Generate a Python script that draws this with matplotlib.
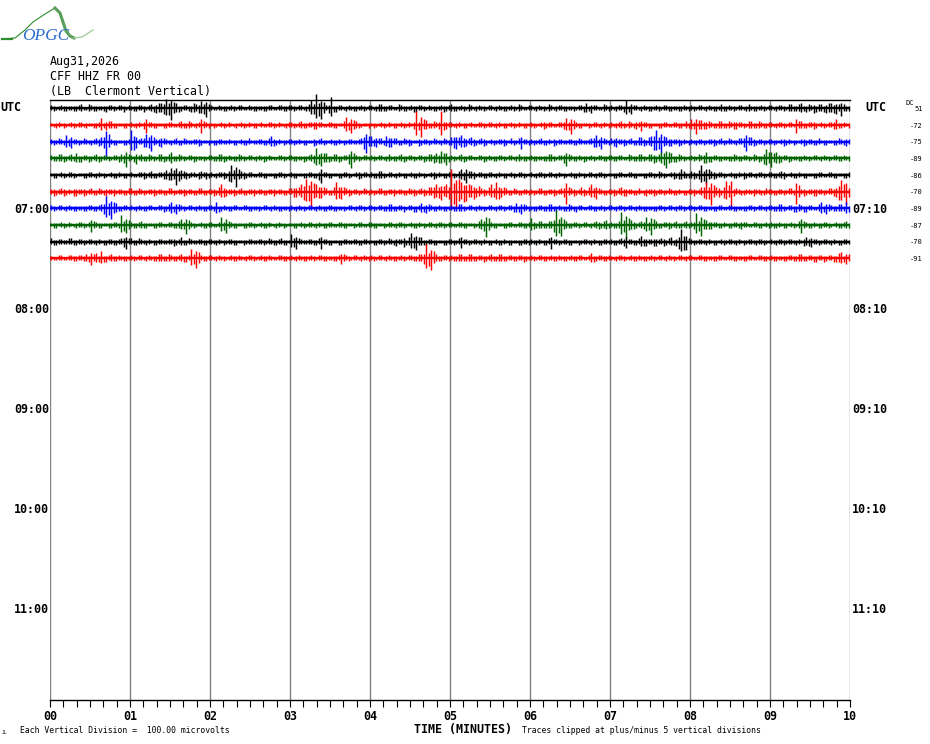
import matplotlib
matplotlib.use('Agg')
import matplotlib.pyplot as plt
import numpy as np

W, H = 930, 744
ROW_PX = 600 / 36  # une ligne = 1 minute... 16.67 px

# Deviations (px, 16 valeurs par minute)
trace_0 = [3,-2,3,-3,2,-3,4,-2,3,-3,2,-4,3,-2,3,-2,
           2,-3,3,-2,4,-5,5,9,-12,5,-3,3,-4,4,7,-9,
           3,-2,2,-3,3,-2,3,-2,2,-3,2,-3,3,-2,3,-3,
           3,-2,3,-3,8,14,-11,3,11,-4,3,-3,2,-3,3,-2,
           3,-3,4,-3,3,-2,3,-3,3,-4,3,-2,2,-3,3,-3,
           4,-3,3,-2,3,-3,2,-2,3,-3,2,-3,3,-2,3,-2,
           3,-3,2,-2,3,-3,3,-3,2,-2,3,5,-5,3,-2,3,
           3,-3,3,8,-6,3,-3,2,-3,3,-2,3,-3,2,-3,2,
           3,-2,3,-3,2,-3,4,-3,2,-2,3,-3,2,-3,3,-2,
           3,-3,3,-2,4,-3,5,-4,3,-4,4,-5,5,-6,-8,-3]
trace_1 = [2,-3,2,-2,3,-2,3,-3,2,-3,7,-5,4,-3,2,-3,
           3,-3,2,-8,3,-3,2,-3,3,-2,4,-3,3,-3,-8,3,
           2,-2,3,-2,2,-3,3,-2,2,-3,3,-2,3,-2,2,-3,
           3,-2,4,-3,3,-4,3,-2,3,-3,2,8,-8,4,-2,2,
           2,-2,3,-2,2,-3,3,-2,2,14,-12,5,-3,3,14,-4,
           3,-3,2,-3,3,-2,3,-2,3,-3,2,-3,3,-2,2,-3,
           3,-2,3,-3,3,-2,3,7,-9,3,-3,2,-2,3,-3,2,
           3,-3,4,-2,3,-4,-6,3,-3,2,-3,3,-2,3,-3,4,
           6,-9,5,-4,3,-3,4,-3,3,-4,3,-2,4,-3,3,-3,
           3,-3,3,-2,3,-8,4,-3,3,-3,3,-2,3,6,-3,2]
trace_2 = [3,-2,3,7,-6,3,-2,3,-3,4,5,-15,3,-3,2,-3,
           12,-6,4,8,-9,3,-5,3,-3,4,-3,3,-2,3,-3,2,
           2,-3,3,-2,2,-3,3,-3,2,-2,3,-3,6,-3,2,-2,
           3,-2,2,-3,2,-3,4,-2,3,-3,2,-2,3,-2,4,-11,
           6,-5,4,6,-5,4,-3,3,-3,2,-3,3,-2,3,-3,3,
           5,-7,7,-4,5,-3,4,-3,3,-2,3,-3,4,-2,-7,3,
           3,-2,4,-3,2,-3,3,-2,3,-3,3,-2,4,7,-7,3,
           4,-5,3,-3,4,-3,5,-3,6,12,-11,5,-4,3,-3,2,
           3,-3,3,-2,3,-3,4,-2,3,-3,4,-9,5,-3,3,-2,
           3,-2,3,-3,2,-2,3,-3,3,-3,2,-3,2,-3,3,-4]
trace_3 = [3,-3,4,-3,4,5,-4,3,-3,4,-3,3,-2,3,4,-9,
           3,-6,4,-3,3,-2,4,-3,6,-3,3,-2,3,-3,2,-2,
           3,-3,4,-3,2,-3,3,-2,3,-3,2,-3,2,-2,3,-2,
           3,-3,2,-3,4,10,-8,5,-3,4,-3,3,-10,3,-2,3,
           3,-2,3,-3,2,-3,4,-3,3,-2,3,-3,4,5,7,-7,
           3,-2,4,-3,3,-2,3,-3,2,-3,3,-2,3,-3,2,-3,
           3,-3,2,-3,4,-2,3,-8,3,-3,2,-3,3,-2,3,-3,
           3,-3,3,-2,3,-3,4,-2,4,-4,6,-10,5,-4,3,-2,
           3,-2,3,6,-4,3,-3,2,-3,3,-3,3,-2,3,-3,9,
           -9,6,-4,3,-3,2,-3,2,-2,3,-3,2,-2,3,-3,2]
trace_4 = [2,-3,3,-2,3,-2,2,-3,3,-3,2,-2,3,-3,2,-3,
           3,-2,3,-3,4,-3,3,5,7,-10,5,-4,3,-2,4,-4,
           3,-3,3,-3,10,-12,4,-3,3,-2,3,-3,2,-3,3,-2,
           3,-3,2,-3,3,-3,-8,3,-3,2,-3,3,-2,3,-3,3,
           3,-3,4,-2,3,-3,2,-3,3,-3,2,-2,3,-3,2,-3,
           3,-2,6,-8,4,-2,3,-3,3,-3,2,-3,3,-2,3,-2,
           3,-3,3,-2,3,-3,2,-2,3,-3,2,-2,3,-3,3,-2,
           2,-3,3,-2,3,-3,2,-3,3,-2,3,-2,3,-3,6,-3,
           4,-3,10,-9,4,-3,3,-2,3,-3,2,-3,3,-3,3,-2,
           3,-3,4,-2,3,-3,2,-3,2,-3,3,-2,3,-3,2,-3]
trace_5 = [3,-3,4,-3,2,-4,3,-3,4,-3,3,-4,3,-2,3,-3,
           4,-3,3,-2,3,-3,3,-3,4,-2,3,-3,3,-3,4,-3,
           3,-3,8,-4,3,-3,4,-3,3,-2,3,-3,3,-2,3,-3,
           4,-5,8,13,-15,8,-6,4,-3,10,-7,4,-3,3,-2,3,
           3,-2,4,-3,3,-2,3,-3,3,-3,4,-3,5,8,-8,8,
           23,-16,10,-9,7,-5,4,-3,8,10,-5,4,-3,3,-3,3,
           3,-2,4,-3,3,-3,4,-12,4,-3,5,-3,8,-7,3,-3,
           3,-3,5,-4,3,-3,2,-4,3,-3,3,-2,3,-3,2,-3,
           3,-2,5,10,-13,5,-3,11,-15,4,-3,3,-2,3,-3,4,
           3,-3,3,-2,4,-12,3,-3,3,-4,3,-2,4,-5,12,-12]
trace_6 = [3,-2,3,-3,2,-3,2,-3,3,-3,4,12,-11,5,-3,3,
           3,-3,2,-3,3,-2,3,-3,6,-6,3,-2,3,-3,2,-3,
           3,6,-3,2,-3,3,-2,3,-3,2,-2,3,-3,2,-3,2,
           3,-3,2,-2,3,-3,2,-3,3,-3,2,-2,3,-3,3,-2,
           3,-2,3,-3,4,-3,3,-2,3,-4,5,-5,3,-3,2,-3,
           3,-3,4,-2,3,-3,2,-2,3,-3,3,-2,3,5,-6,3,
           2,-3,3,-3,4,-3,2,-3,3,-4,3,-2,3,-3,3,-2,
           3,-3,3,-2,3,-3,2,-3,2,-3,3,-2,3,-3,3,-2,
           3,-2,3,-3,2,-3,3,-2,3,-3,2,-3,3,-2,3,-3,
           3,-3,4,-2,3,-4,3,-4,3,-2,6,-6,3,-3,4,6]
trace_7 = [2,-3,3,-2,2,-3,3,-2,-7,3,-3,2,-3,3,10,-8,
           3,-3,4,-3,2,-3,3,-2,3,-3,6,-9,3,-2,3,-3,
           3,-2,8,-8,3,-3,2,-3,3,-2,3,-3,2,-3,2,-2,
           2,-3,3,-2,3,-3,2,-3,3,-2,3,-3,2,-2,3,-2,
           3,-3,2,-2,3,-3,3,-2,3,-3,2,-2,3,-3,3,-2,
           3,-2,3,-3,2,-2,6,-12,3,-3,2,-3,3,-2,3,-3,
           7,-3,4,-3,4,15,-11,4,-3,3,-2,3,-3,4,-3,5,
           3,-3,13,-13,5,-3,4,8,-10,4,-3,3,-3,4,-3,4,
           3,12,-11,5,-4,3,-3,2,-3,3,-4,3,-2,3,-3,3,
           3,-3,2,-3,3,-2,-8,3,-3,2,-3,3,-2,3,-3,4]
trace_8 = [4,-3,3,-2,4,-3,3,-2,3,-3,2,-3,3,-3,4,-7,
           4,-3,3,-3,2,-3,3,-2,3,-3,5,-3,3,-2,3,-3,
           3,-3,2,-2,3,-3,2,-2,3,-2,3,-2,3,-3,4,-3,
           8,-7,3,-2,3,-3,-7,3,-3,2,-3,3,-2,3,-3,3,
           2,-3,3,-2,3,-4,3,-3,9,-8,5,-3,3,-3,2,-3,
           3,-2,-6,3,-2,3,-3,2,-3,3,-3,2,-3,2,-3,3,
           3,-3,2,-3,-7,3,-2,3,-3,2,-2,3,-3,2,-3,3,
           3,-3,4,-6,3,-3,6,-4,3,-4,4,-3,5,-4,13,-8,
           3,-2,3,-3,2,-3,3,-2,3,-3,2,-2,3,-3,3,-2,
           3,-3,3,-2,3,-3,2,5,-5,3,-2,3,-3,2,-3,3]
trace_9 = [2,-2,3,-2,3,-3,3,4,-7,5,7,-4,4,-3,2,-3,
           3,-2,3,-3,2,-3,4,-3,3,-3,4,-4,9,-10,3,-3,
           3,-3,2,-2,3,-3,2,-3,3,-2,3,-3,2,-2,3,-3,
           3,-3,2,-3,3,-2,3,-3,2,-3,-6,3,-2,3,-3,2,
           3,-2,3,-3,2,-3,3,-2,3,-3,4,14,-12,4,-3,3,
           3,-3,4,-3,4,-3,3,-3,4,-3,4,-3,3,-3,3,-3,
           3,-2,3,-3,3,-3,2,-3,3,-3,3,-2,5,-3,3,-3,
           2,-3,3,-2,3,-3,2,-3,3,-2,3,-3,2,-2,3,-3,
           3,-2,3,-3,2,-3,3,-2,3,-3,2,-3,3,-2,3,-3,
           3,-3,2,-3,3,-3,4,-3,3,-4,3,-3,3,-4,6,-6]

# Valeurs intermediaires (entre deux valeurs ci-dessus)
fine_0 = [-3,2,-3,2,-3,3,-2,4,-3,2,-3,3,-3,3,-4,3,
          -3,3,-4,3,-4,5,-6,-7,6,-4,3,-3,5,-5,-6,4,
          -2,3,-3,2,-3,3,-2,3,-3,2,-3,3,-2,3,-3,3,
          -3,3,-2,4,-6,-8,6,-5,-4,3,-2,3,-3,2,-3,3,
          -2,4,-3,3,-2,4,-3,2,-4,3,-3,3,-3,2,-4,3,
          -3,2,-3,4,-2,3,-3,3,-2,3,-3,2,-3,4,-2,3,
          -2,3,-3,4,-2,3,-3,2,-3,3,-4,-3,3,-2,4,-3,
          -2,3,-4,-4,3,-2,3,-3,2,-3,3,-3,2,-3,3,-3,
          -3,3,-2,3,-3,2,-3,3,-3,3,-2,4,-3,2,-3,3,
          -2,3,-3,4,-3,4,-3,4,-5,4,-4,5,-5,4,4,-3]
fine_1 = [-2,3,-3,2,-3,3,-2,2,-3,3,-3,4,-3,2,-3,2,
          -2,3,-4,3,-3,2,-3,3,-2,3,-3,4,-2,3,4,-3,
          -3,2,-3,3,-2,2,-3,3,-3,2,-2,3,-3,3,-2,3,
          -3,3,-3,3,-4,3,-2,3,-3,2,4,-5,5,-3,2,-3,
          -3,2,-3,3,-3,2,-3,3,-4,-5,6,-3,4,-4,-5,3,
          -2,3,-3,2,-2,3,-3,3,-2,3,-3,2,-3,3,-3,2,
          -3,2,-4,3,-2,3,-4,-5,5,-3,2,-3,3,-2,3,-3,
          -2,3,-3,4,-3,3,3,-3,2,-3,3,-2,3,-3,2,-3,
          -4,5,-4,4,-3,4,-3,4,-4,3,-3,4,-3,4,-3,3,
          -2,3,-3,3,-2,4,-3,3,-4,2,-3,3,-4,-3,3,-3]
fine_2 = [-3,4,-3,-4,3,-3,4,-2,3,-4,-6,8,-3,2,-3,3,
          -8,3,-5,-6,5,-4,4,-2,3,-3,4,-2,3,-4,2,-3,
          -3,3,-2,3,-3,2,-3,4,-2,3,-3,4,-4,3,-3,3,
          -3,3,-3,2,-4,3,-3,2,-3,3,-3,3,-2,3,-7,6,
          -4,4,-3,-5,4,-3,4,-4,2,-4,3,-3,4,-2,4,-3,
          -6,5,-5,4,-4,3,-4,2,-3,3,-4,2,-3,4,3,-3,
          -3,3,-3,3,-4,3,-2,3,-3,4,-2,3,-5,-4,4,-3,
          -4,3,-4,3,-3,5,-4,5,-8,-7,6,-4,3,-4,3,-3,
          -2,3,-3,3,-4,3,-3,4,-2,4,-5,5,-4,3,-3,3,
          -3,2,-4,3,-3,2,-4,3,-3,4,-3,2,-3,4,-3,3]
fine_3 = [-3,4,-4,3,-3,-4,3,-4,3,-4,3,-3,3,-4,-5,4,
          -4,3,-3,4,-3,4,-4,4,-3,4,-3,3,-4,2,-3,3,
          -3,4,-4,3,-3,4,-3,3,-2,3,-4,3,-2,3,-3,3,
          -3,2,-4,3,-5,-6,5,-4,4,-4,3,-6,5,-3,3,-2,
          -3,3,-2,4,-3,3,-4,3,-3,3,-4,4,-5,-5,5,-4,
          -3,3,-4,3,-2,3,-4,3,-3,3,-3,3,-2,4,-3,2,
          -3,2,-3,4,-3,3,-5,4,-3,3,-4,2,-3,3,-3,3,
          -3,3,-2,4,-3,4,-3,4,-5,4,-7,6,-4,4,-3,2,
          -3,4,-5,-4,3,-3,2,-3,4,-3,3,-3,4,-4,-6,6,
          5,-5,3,-4,2,-3,3,-3,3,-2,3,-3,3,-3,3,-3]
fine_4 = [-3,2,-3,3,-3,2,-3,3,-2,3,-3,2,-3,3,-3,2,
          -2,3,-4,3,-3,3,-4,-5,5,-6,4,-3,3,-4,3,-3,
          -2,3,-4,-6,5,6,-4,3,-2,3,-3,2,-3,3,-3,2,
          -3,2,-3,3,-3,-5,3,-3,2,-3,3,-3,2,-4,3,-2,
          -3,4,-3,3,-2,3,-3,2,-3,3,-3,2,-4,3,-3,3,
          -3,4,-5,4,-4,3,-3,3,-2,3,-3,2,-3,3,-3,2,
          -2,3,-3,3,-2,3,-3,2,-3,3,-3,3,-2,3,-3,2,
          -3,3,-2,3,-3,2,-3,3,-3,4,-3,2,-4,-4,4,-3,
          -4,5,-6,6,-4,3,-3,2,-3,3,-4,3,-2,3,-3,3,
          -3,3,-4,2,-3,3,-3,2,-3,3,-2,3,-3,2,-3,3]
fine_5 = [-4,3,-4,3,-4,3,-4,3,-3,4,-3,3,-4,3,-3,4,
          -3,4,-3,3,-4,3,-3,4,-3,3,-4,3,-3,4,-3,3,
          -4,5,-5,3,-4,3,-3,3,-4,3,-3,3,-4,3,-3,4,
          -5,5,-8,-9,9,-6,5,-3,5,-6,5,-4,3,-3,4,-3,
          -3,4,-3,3,-4,3,-3,4,-4,3,-4,5,-6,-6,6,-7,
          -12,13,-10,8,-7,6,-4,5,-5,-7,5,-3,4,-3,3,-3,
          -3,4,-3,3,-4,3,-5,5,-4,3,-4,5,-5,4,-3,3,
          -4,4,-4,3,-3,4,-3,3,-4,3,-3,4,-3,3,-3,3,
          -4,3,-6,-7,7,-5,-6,7,-4,3,-3,3,-4,3,-3,3,
          -3,3,-3,4,-3,7,-4,3,-4,3,-3,4,-4,-8,8,-5]
fine_6 = [-3,3,-2,3,-3,2,-3,3,-3,3,-6,-7,6,-3,3,-2,
          -2,3,-3,3,-2,3,-4,4,-4,4,-3,3,-2,3,-3,3,
          -3,-4,3,-3,3,-2,3,-3,2,-3,3,-2,3,-3,2,-3,
          -2,3,-3,3,-2,3,-3,3,-3,2,-3,3,-2,3,-3,3,
          -3,3,-3,4,-3,3,-4,3,-4,3,-4,4,-3,3,-3,2,
          -3,4,-3,3,-2,3,-3,3,-2,3,-3,3,-4,-4,4,-3,
          -3,3,-3,4,-3,3,-3,4,-3,3,-2,3,-3,2,-3,3,
          -2,3,-3,3,-2,3,-3,2,-3,3,-3,3,-2,3,-3,3,
          -3,3,-3,2,-3,3,-2,3,-3,2,-3,3,-3,3,-2,3,
          -3,4,-3,3,-4,4,-4,3,-2,4,-4,4,-3,4,-3,-4]
fine_7 = [-3,2,-3,3,-2,3,-3,3,4,-3,2,-3,3,-3,-6,5,
          -3,3,-3,2,-3,3,-2,3,-3,4,-4,5,-3,2,-3,3,
          -2,3,-5,4,-3,2,-3,3,-3,2,-3,3,-2,3,-3,2,
          -3,2,-3,3,-2,3,-3,3,-2,3,-3,2,-3,3,-2,3,
          -3,2,-3,3,-2,3,-3,2,-3,3,-3,3,-2,3,-3,3,
          -2,3,-3,2,-3,4,-6,7,-3,2,-3,3,-2,3,-3,3,
          -4,4,-3,4,-7,-8,6,-3,3,-3,3,-2,3,-4,4,-3,
          -3,4,-7,7,-4,3,-4,-5,6,-3,3,-4,3,-3,3,-3,
          -4,-6,6,-4,3,-3,3,-3,3,-3,3,-2,3,-3,2,-3,
          -3,3,-3,2,-3,4,4,-3,3,-3,3,-3,2,-3,3,-3]
fine_8 = [-3,3,-2,4,-3,3,-3,3,-2,3,-3,3,-3,3,-5,4,
          -3,4,-2,3,-3,3,-2,3,-4,3,-3,4,-2,3,-3,3,
          -2,3,-3,3,-3,2,-3,3,-2,3,-3,4,-3,3,-3,2,
          -5,4,-2,3,-3,4,3,-3,2,-3,3,-2,3,-3,3,-2,
          -3,3,-3,4,-3,3,-5,5,-6,5,-3,3,-3,2,-3,3,
          -3,4,3,-3,3,-2,3,-3,2,-3,3,-3,2,-3,3,-3,
          -2,3,-3,4,3,-3,3,-3,2,-3,3,-2,3,-3,3,-2,
          -3,3,-4,3,-3,4,-4,3,-4,3,-4,4,-3,-7,-8,4,
          -3,3,-2,3,-3,2,-3,3,-2,3,-3,3,-2,3,-3,2,
          -2,3,-3,3,-2,3,-4,-4,3,-3,3,-2,3,-3,3,-2]
fine_9 = [-2,3,-2,3,-3,3,-3,-4,4,-4,-4,3,-3,3,-3,2,
          -3,3,-2,3,-3,4,-3,4,-3,3,-4,3,-6,6,-3,3,
          -2,3,-3,2,-3,3,-2,3,-3,2,-3,3,-2,3,-3,2,
          -2,3,-3,2,-3,3,-3,2,-3,3,4,-3,3,-2,3,-3,
          -3,3,-2,3,-3,2,-3,3,-3,4,-6,-8,7,-3,3,-3,
          -3,4,-3,4,-3,3,-4,3,-3,4,-3,3,-3,3,-4,2,
          -3,3,-3,2,-3,3,-3,2,-3,3,-2,3,-4,3,-3,3,
          -2,3,-3,2,-3,3,-3,2,-3,3,-2,3,-3,3,-2,3,
          -2,3,-3,2,-3,3,-2,3,-3,2,-3,3,-2,3,-3,2,
          -3,2,-3,3,-3,4,-3,3,-4,3,-4,3,-4,5,-4,4]

traces = [trace_0, trace_1, trace_2, trace_3, trace_4,
          trace_5, trace_6, trace_7, trace_8, trace_9]
fines = [fine_0, fine_1, fine_2, fine_3, fine_4,
         fine_5, fine_6, fine_7, fine_8, fine_9]
colors = ['black', 'red', 'blue', 'darkgreen'] * 3
dc_labels = ['51', '-72', '-75', '-89', '-86', '-70', '-89', '-87', '-70', '-91']

left_hours = ['07:00', '08:00', '09:00', '10:00', '11:00']
right_hours = ['07:10', '08:10', '09:10', '10:10', '11:10']
minute_labels = ['00', '01', '02', '03', '04', '05', '06', '07', '08', '09', '10']

logo_x = [2, 15, 25, 33, 45, 55]
logo_y = [39, 38, 30, 22, 14, 8]
logo_thick_x = [55, 60, 63, 66, 70, 74]
logo_thick_y = [8, 13, 22, 31, 36, 38]
logo_tail_x = [74, 82, 93]
logo_tail_y = [38, 37, 30]

MONO = 'DejaVu Sans Mono'


def put(px, py, s, size=8.4, weight='normal', ha='left', color='black', **kw):
    fig.text(px / W, 1 - py / H, s, fontsize=size, fontweight=weight, ha=ha, va='center',
             family=MONO, color=color, **kw)


fig = plt.figure(figsize=(W / 100, H / 100), dpi=100)
ax = fig.add_axes([50 / W, 44 / H, 800 / W, 600 / H])
ax.set_xlim(0, 10)
ax.set_ylim(36, 0)

for spine in ['left', 'right']:
    ax.spines[spine].set_visible(False)
ax.spines['top'].set_linewidth(1.0)
ax.spines['bottom'].set_linewidth(1.0)

ax.vlines(np.arange(0, 11), 0, 36, color='#808080', linewidth=1.0, zorder=1)

for i in range(10):
    y0 = i + 0.5
    # on intercale les deux series : 32 valeurs par minute
    vals = np.ravel(np.column_stack([traces[i], fines[i]])).astype(float)
    x = (np.arange(len(vals)) + 0.5) / 32
    ax.hlines(y0, 0, 10, color=colors[i], linewidth=1.7, zorder=2)
    ax.vlines(x, y0 - vals / ROW_PX, y0 + 0.7 * vals / ROW_PX, color=colors[i], linewidth=1.05,
              zorder=3, clip_on=False)

ax.set_xticks(np.arange(0, 11))
ax.set_xticklabels(minute_labels, family=MONO, fontweight='bold', fontsize=8.4)
ax.set_xticks(np.arange(0, 60.5) / 6, minor=True)
ax.tick_params(axis='x', which='both', length=5, width=0.8, direction='out', pad=2.5)
ax.set_yticks([])

# textes autour du tracé
put(50, 62, 'Aug31,2026')
put(50, 77, 'CFF HHZ FR 00')
put(50, 92, '(LB  Clermont Vertical)')
put(0, 107.5, 'UTC', weight='bold')
put(865, 107.5, 'UTC', weight='bold')
for k, (a, b) in enumerate(zip(left_hours, right_hours)):
    put(14, 209.5 + 100 * k, a, weight='bold')
    put(852, 209.5 + 100 * k, b, weight='bold')

put(905, 103, 'DC', size=5)
for i, lab in enumerate(dc_labels):
    put(923, 109 + i * ROW_PX, lab, size=5, ha='right')

put(414, 730, 'TIME (MINUTES)', weight='bold')
put(20, 730.5, 'Each Vertical Division =  100.00 microvolts', size=5.9)
put(522, 730.5, 'Traces clipped at plus/minus 5 vertical divisions', size=5.9)
put(2, 733, 'JL', size=3.5)

# logo
lg = fig.add_axes([0, 0, 1, 1], facecolor='none')
lg.set_xlim(0, W)
lg.set_ylim(H, 0)
lg.axis('off')
lg.plot(logo_x, logo_y, color='#2e8b2e', linewidth=0.8)
lg.plot(logo_thick_x, logo_thick_y, color='#5a9e5a', linewidth=2.2)
lg.plot(logo_tail_x, logo_tail_y, color='#a8cfa0', linewidth=1.0)
lg.plot([2, 12], [39, 39], color='#2e8b2e', linewidth=1.6)
lg.text(46, 36, 'OPGC', color='#2f6fd0', fontsize=12.5, style='italic', family='Liberation Serif',
        ha='center', va='center')

fig.savefig('out.png', dpi=100)
